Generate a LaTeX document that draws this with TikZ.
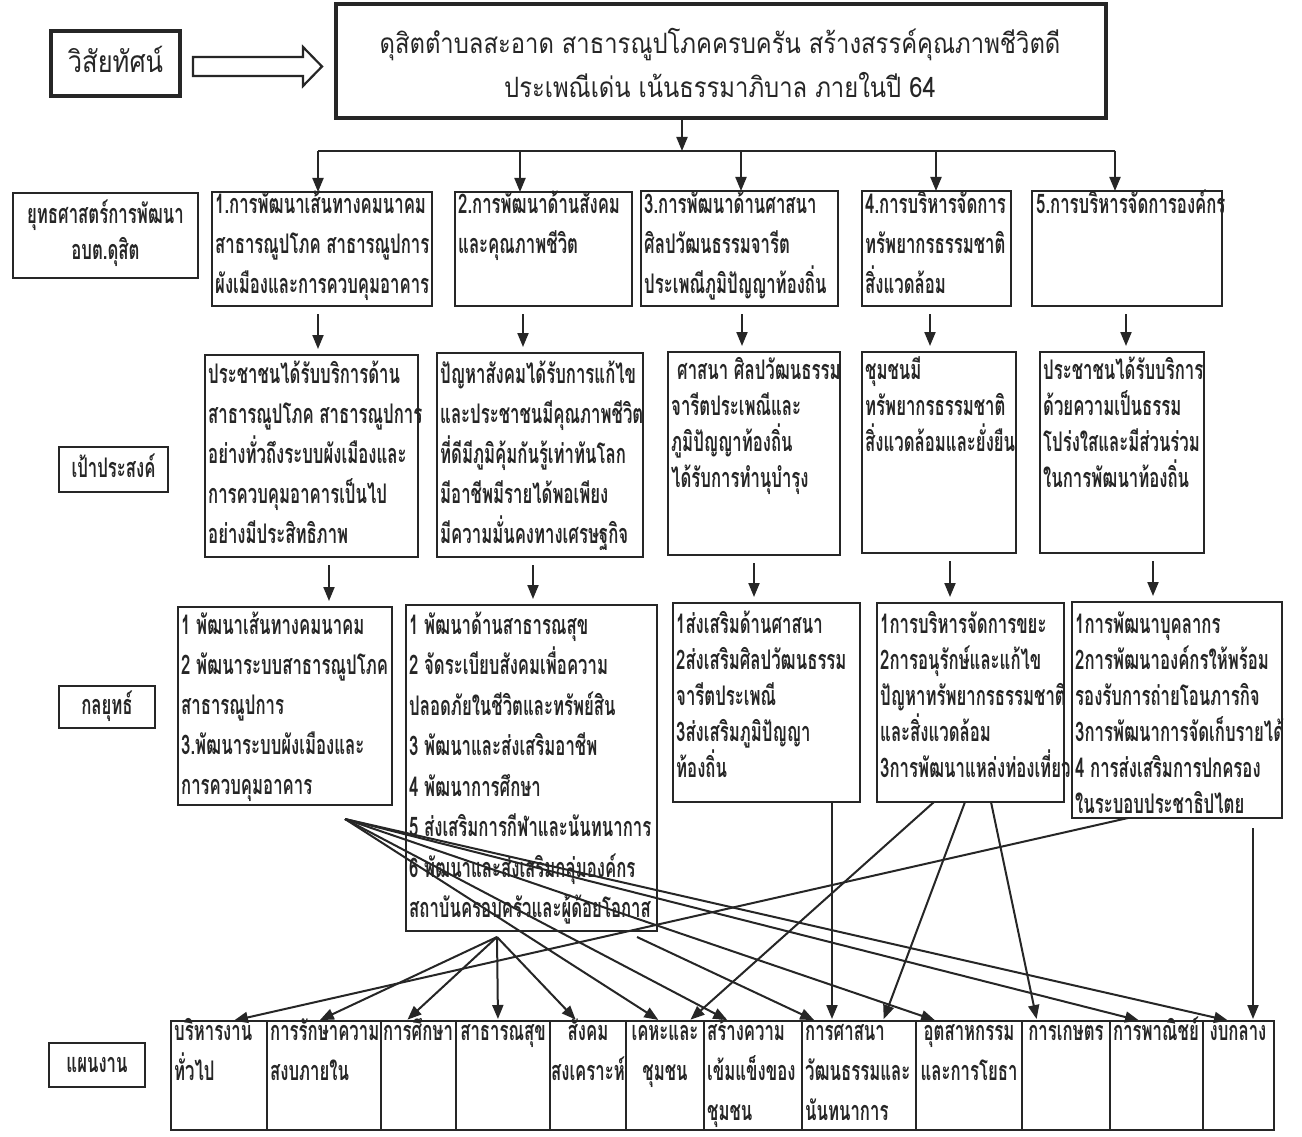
\documentclass[tikz,border=0pt]{standalone}
\usepackage{fontspec}
\usetikzlibrary{arrows.meta,calc}
\newfontfamily\thbody[Script=Thai,FakeStretch=0.62]{Loma}
\newfontfamily\thtop[Script=Thai,FakeStretch=0.85]{Loma}
\definecolor{ink}{HTML}{262626}
\tikzset{
  frame/.style={draw=ink,line width=1.7pt,rectangle,inner sep=0pt,outer sep=0pt},
  heavy frame/.style={frame,line width=3.2pt},
  body/.style={inner sep=0pt,align=left,text=ink,font=\thbody\bfseries\fontsize{27}{40}\selectfont},
  bodyS/.style={body,font=\thbody\bfseries\fontsize{27}{36}\selectfont},
  bodyM/.style={body,font=\thbody\bfseries\fontsize{27}{40.5}\selectfont},
  toptext/.style={inner sep=0pt,align=center,text=ink,font=\thtop\fontsize{28}{44}\selectfont},
  arr/.style={draw=ink,line width=2pt,-{Triangle[length=14pt,width=11pt]}},
  plain/.style={draw=ink,line width=2pt},
}
\newcommand\boxat[6][]{\node[frame,#1,minimum width={#5-#3},minimum height={#6-#4}] (#2) at ({(#3+#5)/2},{(#4+#6)/2}) {};}
\begin{document}
\begin{tikzpicture}[x=1pt,y=-1pt]
\useasboundingbox[fill=white] (0,0) rectangle (1302,1137);
% ---------- vision ----------
\boxat[heavy frame]{vis}{51}{31}{180}{96}
\node[toptext,font=\thtop\fontsize{30}{36}\selectfont,anchor=base] (vist) at (115.5,73) {วิสัยทัศน์};
\boxat[heavy frame]{top}{336}{4}{1106}{118}
\node[toptext,anchor=base] (topt) at (720,98) {ดุสิตตำบลสะอาด สาธารณูปโภคครบครัน สร้างสรรค์คุณภาพชีวิตดี\\ประเพณีเด่น เน้นธรรมาภิบาล ภายในปี 64};
\draw[draw=ink,line width=2.2pt,fill=white] (193,57) -- (303,57) -- (303,47) -- (322,66.5) -- (303,86) -- (303,76) -- (193,76) -- cycle;
% ---------- distribution bar ----------
\coordinate (j0) at (682,151);
\coordinate (j1) at (318,151);
\coordinate (j2) at (520,151);
\coordinate (j3) at (741,151);
\coordinate (j4) at (936,151);
\coordinate (j5) at (1115,151);
\draw[arr] (top.south -| j0) -- (j0);
\draw[plain] (j1) -- (j5);
% ---------- strategy row ----------
\boxat{lab1}{13}{193}{198}{278}
\node[bodyS,align=center,anchor=base] (lab1t) at (105.5,259) {ยุทธศาสตร์การพัฒนา\\อบต.ดุสิต};
\boxat{b1}{212}{192}{432}{306}
\boxat{b2}{455}{192}{632}{306}
\boxat{b3}{641}{191}{838}{306}
\boxat{b4}{862}{191}{1011}{306}
\boxat{b5}{1032}{191}{1222}{306}
\node[body,anchor=base west] (b1t) at (215,293) {1.การพัฒนาเส้นทางคมนาคม\\สาธารณูปโภค สาธารณูปการ\\ผังเมืองและการควบคุมอาคาร};
\node[body,anchor=base west] (b2t) at (458,253) {2.การพัฒนาด้านสังคม\\และคุณภาพชีวิต};
\node[body,anchor=base west] (b3t) at (644,293) {3.การพัฒนาด้านศาสนา\\ศิลปวัฒนธรรมจารีต\\ประเพณีภูมิปัญญาท้องถิ่น};
\node[body,anchor=base west] (b4t) at (865,293) {4.การบริหารจัดการ\\ทรัพยากรธรรมชาติ\\สิ่งแวดล้อม};
\node[body,anchor=base west] (b5t) at (1036,213) {5.การบริหารจัดการองค์กร};
\draw[arr] (j1) -- (j1 |- b1.north);
\draw[arr] (j2) -- (j2 |- b2.north);
\draw[arr] (j3) -- (j3 |- b3.north);
\draw[arr] (j4) -- (j4 |- b4.north);
\draw[arr] (j5) -- (j5 |- b5.north);
% ---------- objectives ----------
\boxat{lab2}{59}{447}{168}{492}
\node[body,anchor=base] (lab2t) at (113.5,477) {เป้าประสงค์};
\boxat{o1}{205}{355}{418}{557}
\boxat{o2}{437}{353}{643}{557}
\boxat{o3}{668}{352}{840}{555}
\boxat{o4}{862}{352}{1016}{553}
\boxat{o5}{1040}{352}{1204}{553}
\node[body,anchor=base west] (o1t) at (208,543) {ประชาชนได้รับบริการด้าน\\สาธารณูปโภค สาธารณูปการ\\อย่างทั่วถึงระบบผังเมืองและ\\การควบคุมอาคารเป็นไป\\อย่างมีประสิทธิภาพ};
\node[body,anchor=base west] (o2t) at (440,543) {ปัญหาสังคมได้รับการแก้ไข\\และประชาชนมีคุณภาพชีวิต\\ที่ดีมีภูมิคุ้มกันรู้เท่าทันโลก\\มีอาชีพมีรายได้พอเพียง\\มีความมั่นคงทางเศรษฐกิจ};
\node[bodyS,anchor=base west] (o3t) at (671,487) {\hspace{6pt}ศาสนา ศิลปวัฒนธรรม\\จารีตประเพณีและ\\ภูมิปัญญาท้องถิ่น\\ได้รับการทำนุบำรุง};
\node[bodyS,anchor=base west] (o4t) at (865,451) {ชุมชนมี\\ทรัพยากรธรรมชาติ\\สิ่งแวดล้อมและยั่งยืน};
\node[bodyS,anchor=base west] (o5t) at (1043,487) {ประชาชนได้รับบริการ\\ด้วยความเป็นธรรม\\โปร่งใสและมีส่วนร่วม\\ในการพัฒนาท้องถิ่น};
\coordinate (v1) at (318,0);
\coordinate (v2) at (523,0);
\coordinate (v3) at (742,0);
\coordinate (v4) at (930,0);
\coordinate (v5) at (1126,0);
\draw[arr,shorten <=8pt,shorten >=6pt] (b1.south -| v1) -- (o1.north -| v1);
\draw[arr,shorten <=8pt,shorten >=6pt] (b2.south -| v2) -- (o2.north -| v2);
\draw[arr,shorten <=8pt,shorten >=6pt] (b3.south -| v3) -- (o3.north -| v3);
\draw[arr,shorten <=8pt,shorten >=6pt] (b4.south -| v4) -- (o4.north -| v4);
\draw[arr,shorten <=8pt,shorten >=6pt] (b5.south -| v5) -- (o5.north -| v5);
% ---------- strategies ----------
\boxat{lab3}{59}{686}{155}{728}
\node[body,anchor=base] (lab3t) at (107,714) {กลยุทธ์};
\boxat{s1}{178}{607}{392}{805}
\boxat{s2}{406}{605}{657}{931}
\boxat{s3}{673}{603}{860}{802}
\boxat{s4}{877}{603}{1064}{802}
\boxat{s5}{1072}{602}{1282}{818}
\node[body,anchor=base west] (s1t) at (181,794) {1 พัฒนาเส้นทางคมนาคม\\2 พัฒนาระบบสาธารณูปโภค\\สาธารณูปการ\\3.พัฒนาระบบผังเมืองและ\\การควบคุมอาคาร};
\node[bodyM,anchor=base west] (s2t) at (409,917.5) {1 พัฒนาด้านสาธารณสุข\\2 จัดระเบียบสังคมเพื่อความ\\ปลอดภัยในชีวิตและทรัพย์สิน\\3 พัฒนาและส่งเสริมอาชีพ\\4 พัฒนาการศึกษา\\5 ส่งเสริมการกีฬาและนันทนาการ\\6 พัฒนาและส่งเสริมกลุ่มองค์กร\\สถาบันครอบครัวและผู้ด้อยโอกาส};
\node[bodyS,anchor=base west] (s3t) at (676,777) {1ส่งเสริมด้านศาสนา\\2ส่งเสริมศิลปวัฒนธรรม\\จารีตประเพณี\\3ส่งเสริมภูมิปัญญา\\ท้องถิ่น};
\node[bodyS,anchor=base west] (s4t) at (880,777) {1การบริหารจัดการขยะ\\2การอนุรักษ์และแก้ไข\\ปัญหาทรัพยากรธรรมชาติ\\และสิ่งแวดล้อม\\3การพัฒนาแหล่งท่องเที่ยว};
\node[bodyS,anchor=base west] (s5t) at (1075,813) {1การพัฒนาบุคลากร\\2การพัฒนาองค์กรให้พร้อม\\รองรับการถ่ายโอนภารกิจ\\3การพัฒนาการจัดเก็บรายได้\\4 การส่งเสริมการปกครอง\\ในระบอบประชาธิปไตย};
\coordinate (w1) at (329,0);
\coordinate (w2) at (533,0);
\coordinate (w3) at (754,0);
\coordinate (w4) at (950,0);
\coordinate (w5) at (1153,0);
\draw[arr,shorten <=8pt,shorten >=6pt] (o1.south -| w1) -- (s1.north -| w1);
\draw[arr,shorten <=8pt,shorten >=6pt] (o2.south -| w2) -- (s2.north -| w2);
\draw[arr,shorten <=8pt,shorten >=6pt] (o3.south -| w3) -- (s3.north -| w3);
\draw[arr,shorten <=8pt,shorten >=6pt] (o4.south -| w4) -- (s4.north -| w4);
\draw[arr,shorten <=8pt,shorten >=6pt] (o5.south -| w5) -- (s5.north -| w5);
% ---------- plans table ----------
\boxat{lab4}{49}{1043}{145}{1087}
\node[body,anchor=base] (lab4t) at (97,1072) {แผนงาน};
\boxat{p1}{171}{1021}{267}{1130}
\boxat{p2}{267}{1021}{381}{1130}
\boxat{p3}{381}{1021}{456}{1130}
\boxat{p4}{456}{1021}{550}{1130}
\boxat{p5}{550}{1021}{626}{1130}
\boxat{p6}{626}{1021}{704}{1130}
\boxat{p7}{704}{1021}{802}{1130}
\boxat{p8}{802}{1021}{916}{1130}
\boxat{p9}{916}{1021}{1022}{1130}
\boxat{p10}{1022}{1021}{1110}{1130}
\boxat{p11}{1110}{1021}{1203}{1130}
\boxat{p12}{1203}{1021}{1274}{1130}
\node[body,anchor=base west] (p1t) at (174,1080) {บริหารงาน\\ทั่วไป};
\node[body,anchor=base west] (p2t) at (270,1080) {การรักษาความ\\สงบภายใน};
\node[body,anchor=base west] (p3t) at (383,1040) {การศึกษา};
\node[body,anchor=base] (p4t) at (503,1040) {สาธารณสุข};
\node[body,anchor=base,align=center] (p5t) at (588,1080) {สังคม\\สงเคราะห์};
\node[body,anchor=base,align=center] (p6t) at (665,1080) {เคหะและ\\ชุมชน};
\node[body,anchor=base west] (p7t) at (707,1120) {สร้างความ\\เข้มแข็งของ\\ชุมชน};
\node[body,anchor=base west] (p8t) at (805,1120) {การศาสนา\\วัฒนธรรมและ\\นันทนาการ};
\node[body,anchor=base,align=center] (p9t) at (969,1080) {อุตสาหกรรม\\และการโยธา};
\node[body,anchor=base] (p10t) at (1066,1040) {การเกษตร};
\node[body,anchor=base] (p11t) at (1156,1040) {การพาณิชย์};
\node[body,anchor=base] (p12t) at (1238,1040) {งบกลาง};
% ---------- connectors to plans ----------
\coordinate (A) at (345,819);
\coordinate (B) at (497,937);
\coordinate (C) at (637,937);
\foreach \n/\x in {t232/232,t318/318,t406/406,t498/498,t577/577,t660/660,t689/689,t729/729,t816/816,t832/832,t883/883,t937/937,t1037/1037,t1128/1128,t1141/1141,t1230/1230,t1253/1253,t934/934,t965/965,t991/991}
  \coordinate (\n) at (\x,0);
\draw[arr,shorten >=2pt] (s5.south -| t1128) -- (p1.north -| t232);
\draw[arr,shorten >=2pt] (B) -- (p2.north -| t318);
\draw[arr,shorten >=2pt] (B) -- (p3.north -| t406);
\draw[arr,shorten >=2pt] (B) -- (p4.north -| t498);
\draw[arr,shorten >=2pt] (B) -- (p5.north -| t577);
\draw[arr,shorten >=2pt] (A) -- (p6.north -| t660);
\draw[arr,shorten >=2pt] (A) -- (p7.north -| t729);
\draw[arr,shorten >=2pt] (A) -- (p9.north -| t937);
\draw[arr,shorten >=2pt] (A) -- (p11.north -| t1141);
\draw[arr,shorten >=2pt] (A) -- (p12.north -| t1230);
\draw[arr,shorten >=2pt] (C) -- (p8.north -| t816);
\draw[arr,shorten >=2pt] (s3.south -| t832) -- (p8.north -| t832);
\draw[arr,shorten >=2pt] (s4.south -| t934) -- (p6.north -| t689);
\draw[arr,shorten >=2pt] (s4.south -| t965) -- (p8.north -| t883);
\draw[arr,shorten >=2pt] (s4.south -| t991) -- (p10.north -| t1037);
\draw[arr,shorten <=10pt,shorten >=2pt] (s5.south -| t1253) -- (p12.north -| t1253);
\end{tikzpicture}
\end{document}
